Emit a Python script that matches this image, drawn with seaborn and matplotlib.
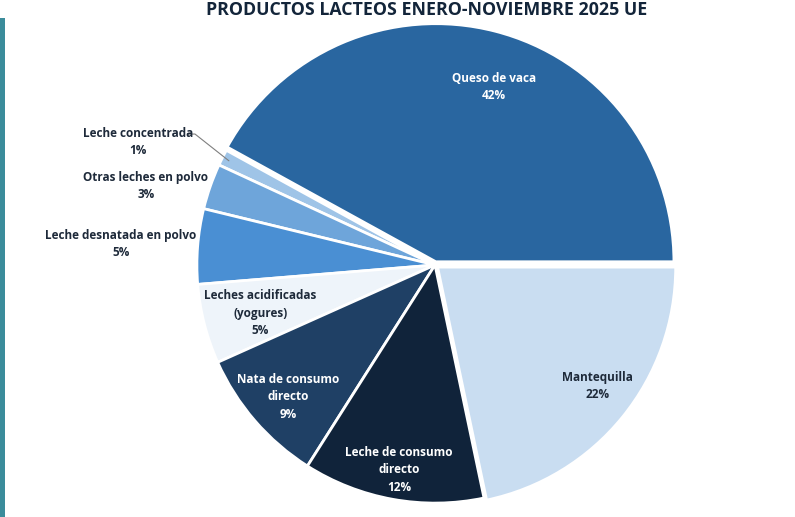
import numpy as np
import matplotlib
matplotlib.use("Agg")
import matplotlib.pyplot as plt
import seaborn as sns

sns.set_theme(style="white")
plt.rcParams['font.family'] = ['Open Sans', 'DejaVu Sans']

# ---- data (counter-clockwise from 3 o'clock), shares in % ----
categories = ["Queso de vaca", "Leche concentrada", "Otras leches en polvo",
              "Leche desnatada en polvo", "Leches acidificadas\n(yogures)",
              "Nata de consumo\ndirecto", "Leche de consumo\ndirecto", "Mantequilla"]
values = [42.0, 1.1, 3.1, 5.1, 5.4, 9.3, 12.3, 21.7]
colors = ["#2966a0", "#9fc4e7", "#6ea5da", "#4a8fd3", "#eef4fa",
          "#1f4065", "#10233a", "#c9ddf1"]
title = "PRODUCTOS LACTEOS ENERO-NOVIEMBRE 2025 UE"

# layout for labels: radius (data units), angle tweak (deg), text colour
label_r = [0.788, 1.351, 1.259, 1.322, 0.760, 0.830, 0.874, 0.850]
label_dt = [-3.9, 4.3, 4.0, 0.7, 1.0, 1.0, 0.3, 2.3]
label_col = ["white", "#1e2a3a", "#1e2a3a", "#1e2a3a", "#1e2a3a", "white", "white", "#1e2a3a"]
explode = [0.014, 0, 0, 0, 0, 0, 0, 0.014]

W, H = 795, 517
fig = plt.figure(figsize=(W / 100, H / 100), dpi=100)
fig.patch.set_facecolor("white")

cx, cy, half = 435, 265, 250
ax = fig.add_axes([(cx - half) / W, (H - cy - half) / H, 2 * half / W, 2 * half / H])
wedges, _ = ax.pie(values, colors=colors, startangle=0, counterclock=True,
                   explode=explode, radius=1.0,
                   wedgeprops=dict(edgecolor="white", linewidth=2))
ax.set_xlim(-1.05, 1.05)
ax.set_ylim(-1.05, 1.05)
ax.set_aspect("equal")
ax.axis("off")

for i, w in enumerate(wedges):
    mid = np.deg2rad((w.theta1 + w.theta2) / 2 + label_dt[i])
    r = label_r[i]
    x, y = r * np.cos(mid), r * np.sin(mid)
    ax.text(x, y, f"{categories[i]}\n{round(values[i])}%", ha="center", va="center",
            fontsize=8.5, fontweight="bold", color=label_col[i], linespacing=1.44)

# leader line for the smallest slice
w = wedges[1]
m = np.deg2rad((w.theta1 + w.theta2) / 2)
ax.plot([-1.04, -1.008, 0.97 * np.cos(m)], [0.55, 0.55, 0.97 * np.sin(m)],
        color="#7f7f7f", lw=0.8, clip_on=False)

fig.text(427 / W, 1 - 10 / H, title, ha="center", va="center",
         fontsize=12.8, fontweight="bold", color="#13253a")

# teal accent bar on left edge
fig.add_artist(plt.Rectangle((0, 0), 4.5 / W, 1 - 18 / H, transform=fig.transFigure,
                             color="#3b8c9b", lw=0))

fig.savefig("out.png", dpi=100, facecolor="white")
